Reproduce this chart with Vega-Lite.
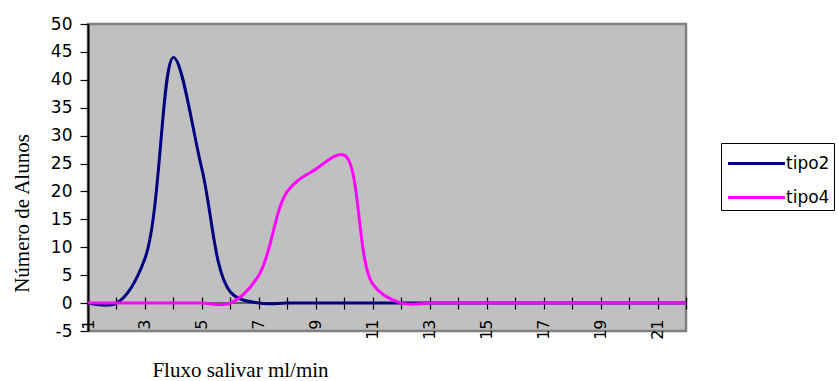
{
  "$schema": "https://vega.github.io/schema/vega-lite/v6.json",
  "width": 598,
  "height": 307,
  "autosize": "none",
  "padding": {"left": 88, "top": 24, "right": 152, "bottom": 50},
  "background": "white",
  "config": {
    "view": {"fill": "#C0C0C0", "stroke": "#808080", "strokeWidth": 2.5},
    "axis": {"grid": false, "labelColor": "black", "labelFont": "DejaVu Sans", "labelFontSize": 17, "labelOverlap": false, "tickColor": "black", "domainColor": "black"}
  },
  "layer": [
    {
      "data": {"values": [{"y": 0}]},
      "mark": {"type": "rule", "color": "#404040", "strokeWidth": 1.5},
      "encoding": {"y": {"field": "y", "type": "quantitative"}}
    },
    {
      "data": {
        "values": [
          {"x": 1, "y": 0, "serie": "tipo2"}, {"x": 2, "y": 0, "serie": "tipo2"}, {"x": 3, "y": 8, "serie": "tipo2"},
          {"x": 4, "y": 44, "serie": "tipo2"}, {"x": 5, "y": 24, "serie": "tipo2"}, {"x": 6, "y": 2, "serie": "tipo2"},
          {"x": 7, "y": 0, "serie": "tipo2"}, {"x": 8, "y": 0, "serie": "tipo2"}, {"x": 9, "y": 0, "serie": "tipo2"},
          {"x": 10, "y": 0, "serie": "tipo2"}, {"x": 11, "y": 0, "serie": "tipo2"}, {"x": 12, "y": 0, "serie": "tipo2"},
          {"x": 13, "y": 0, "serie": "tipo2"}, {"x": 14, "y": 0, "serie": "tipo2"}, {"x": 15, "y": 0, "serie": "tipo2"},
          {"x": 16, "y": 0, "serie": "tipo2"}, {"x": 17, "y": 0, "serie": "tipo2"}, {"x": 18, "y": 0, "serie": "tipo2"},
          {"x": 19, "y": 0, "serie": "tipo2"}, {"x": 20, "y": 0, "serie": "tipo2"}, {"x": 21, "y": 0, "serie": "tipo2"},
          {"x": 22, "y": 0, "serie": "tipo2"},
          {"x": 1, "y": 0, "serie": "tipo4"}, {"x": 2, "y": 0, "serie": "tipo4"}, {"x": 3, "y": 0, "serie": "tipo4"},
          {"x": 4, "y": 0, "serie": "tipo4"}, {"x": 5, "y": 0, "serie": "tipo4"}, {"x": 6, "y": 0, "serie": "tipo4"},
          {"x": 7, "y": 5, "serie": "tipo4"}, {"x": 8, "y": 20, "serie": "tipo4"}, {"x": 9, "y": 24, "serie": "tipo4"},
          {"x": 10, "y": 26.5, "serie": "tipo4"}, {"x": 11, "y": 3.4, "serie": "tipo4"}, {"x": 12, "y": 0, "serie": "tipo4"},
          {"x": 13, "y": 0, "serie": "tipo4"}, {"x": 14, "y": 0, "serie": "tipo4"}, {"x": 15, "y": 0, "serie": "tipo4"},
          {"x": 16, "y": 0, "serie": "tipo4"}, {"x": 17, "y": 0, "serie": "tipo4"}, {"x": 18, "y": 0, "serie": "tipo4"},
          {"x": 19, "y": 0, "serie": "tipo4"}, {"x": 20, "y": 0, "serie": "tipo4"}, {"x": 21, "y": 0, "serie": "tipo4"},
          {"x": 22, "y": 0, "serie": "tipo4"}
        ]
      },
      "mark": {"type": "line", "interpolate": "catmull-rom", "strokeWidth": 3},
      "encoding": {
        "x": {
          "field": "x", "type": "quantitative",
          "scale": {"domain": [1, 22], "nice": false, "zero": false},
          "axis": {
            "orient": "bottom", "offset": -34, "domain": false,
            "values": [1,2,3,4,5,6,7,8,9,10,11,12,13,14,15,16,17,18,19,20,21,22],
            "tickCount": 40, "format": "d",
            "labelExpr": "datum.value % 2 == 1 ? datum.label : ''",
            "labelOverlap": false, "labelFontSize": 16,
            "labelAngle": 270, "labelPadding": 10, "tickSize": 12, "tickWidth": 1.2,
            "title": "Fluxo salivar ml/min",
            "titleFont": "Liberation Serif", "titleFontSize": 21, "titleFontWeight": "normal", "titleColor": "black",
            "titleX": 152, "titleY": 79, "titleAlign": "center", "titleBaseline": "alphabetic"
          }
        },
        "y": {
          "field": "y", "type": "quantitative",
          "scale": {"domain": [-5, 50], "nice": false, "zero": false},
          "axis": {
            "values": [-5,0,5,10,15,20,25,30,35,40,45,50],
            "tickCount": 40, "format": "d",
            "labelExpr": "datum.value < 0 ? '-' + abs(datum.value) : datum.label",
            "labelOverlap": false,
            "tickSize": 8, "tickWidth": 1.2, "labelPadding": 8, "domainWidth": 2,
            "title": "Número de Alunos",
            "titleFont": "Liberation Serif", "titleFontSize": 21, "titleFontWeight": "normal", "titleColor": "black",
            "titleX": -66, "titleY": 189, "titleAlign": "center", "titleBaseline": "middle", "titleAngle": 270
          }
        },
        "color": {
          "field": "serie", "type": "nominal",
          "scale": {"domain": ["tipo2", "tipo4"], "range": ["#000080", "#FF00FF"]},
          "legend": {
            "title": null, "orient": "none", "legendX": 633, "legendY": 119,
            "fillColor": "white", "strokeColor": "black", "padding": 4,
            "symbolType": "M-0.9,0H2.9", "symbolSize": 900, "symbolStrokeWidth": 3,
            "labelFont": "DejaVu Sans", "labelFontSize": 17, "labelColor": "black", "labelOffset": 28, "rowPadding": 9
          }
        }
      }
    }
  ]
}
